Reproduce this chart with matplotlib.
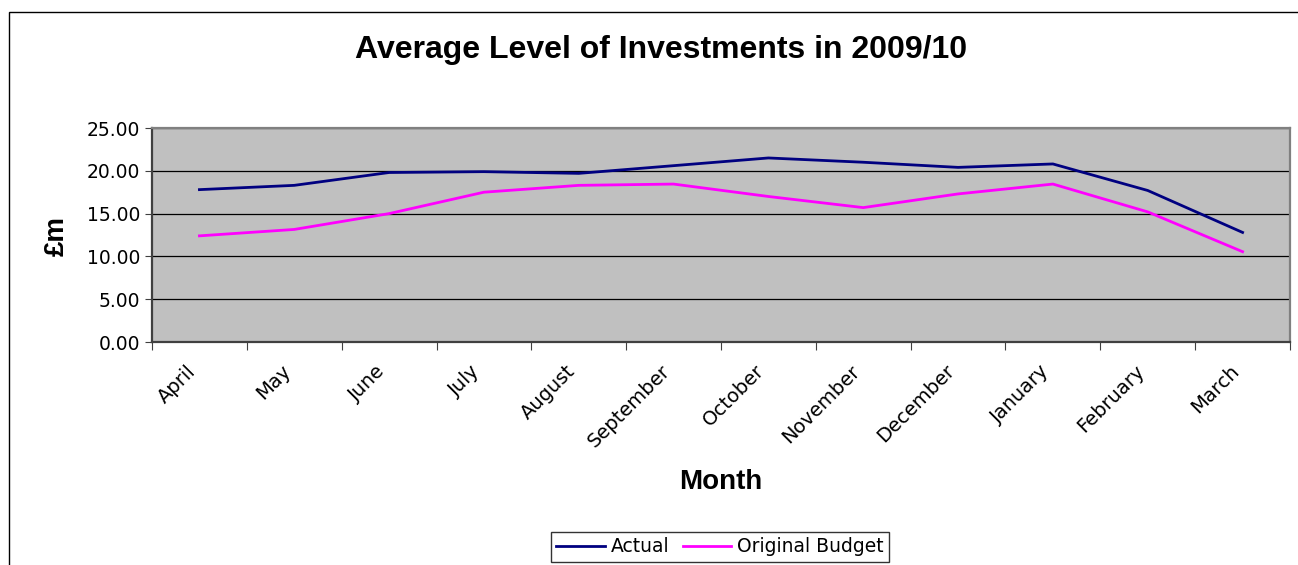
import matplotlib.pyplot as plt
from matplotlib.patches import Rectangle
from matplotlib.ticker import FixedLocator, FormatStrFormatter

plt.rcParams['font.family'] = ['Liberation Sans', 'DejaVu Sans']

months = ["April", "May", "June", "July", "August", "September", "October",
          "November", "December", "January", "February", "March"]
actual = [17.8, 18.3, 19.8, 19.9, 19.7, 20.6, 21.5, 21.0, 20.4, 20.8, 17.7, 12.8]
budget = [12.4, 13.15, 15.0, 17.5, 18.3, 18.45, 17.0, 15.7, 17.3, 18.45, 15.2, 10.55]

fig = plt.figure(figsize=(12.98, 5.65), dpi=100)

# outer chart frame (cut off at right and bottom like the source)
fig.patches.append(Rectangle((9 / 1298, -0.05), 1.1, 1 - 12 / 565 + 0.05,
                             transform=fig.transFigure, fill=False,
                             edgecolor='black', linewidth=1.0))

ax = fig.add_axes([152 / 1298, 1 - 342 / 565, (1290 - 152) / 1298, (342 - 128) / 565])
ax.set_facecolor('#C0C0C0')

x = list(range(len(months)))
ax.plot(x, actual, color='#000080', linewidth=2.0, label='Actual')
ax.plot(x, budget, color='#FF00FF', linewidth=2.0, label='Original Budget')

ax.set_xlim(-0.5, len(months) - 0.5)
ax.set_ylim(0, 25)
ax.set_yticks([0, 5, 10, 15, 20, 25])
ax.yaxis.set_major_formatter(FormatStrFormatter('%.2f'))
ax.grid(axis='y', color='black', linewidth=0.9)
ax.set_axisbelow(True)

# category boundaries get tick marks, labels sit at centres
ax.xaxis.set_major_locator(FixedLocator([i - 0.5 for i in range(len(months) + 1)]))
ax.xaxis.set_minor_locator(FixedLocator(x))
ax.set_xticklabels([])
ax.set_xticklabels(months, minor=True, rotation=45, ha='right', va='top',
                   fontsize=14, family='DejaVu Sans')
ax.tick_params(axis='x', which='major', direction='out', length=6, color='#404040')
ax.tick_params(axis='x', which='minor', length=0, pad=14)
ax.tick_params(axis='y', direction='out', length=5, labelsize=13.5, color='#404040')
for lab in ax.get_yticklabels():
    lab.set_family('DejaVu Sans')

for s in ax.spines.values():
    s.set_color('#808080')
    s.set_linewidth(1.6)
ax.spines['bottom'].set_color('#404040')
ax.spines['left'].set_color('#404040')

fig.text(661 / 1298, 1 - 50 / 565, "Average Level of Investments in 2009/10",
         ha='center', va='center', fontsize=23, fontweight='bold')
fig.text(57 / 1298, 1 - 236 / 565, "£m", rotation=90, ha='center', va='center',
         fontsize=20, fontweight='bold')
fig.text(721 / 1298, 1 - 482 / 565, "Month", ha='center', va='center',
         fontsize=20, fontweight='bold')

leg = fig.legend(loc='center', bbox_to_anchor=(720 / 1298, 1 - 547 / 565), ncol=2,
                 prop={'family': 'DejaVu Sans', 'size': 13.5}, frameon=True,
                 fancybox=False, edgecolor='black', handlelength=2.6,
                 handletextpad=0.3, columnspacing=0.7, borderpad=0.3)
leg.get_frame().set_linewidth(1.0)

fig.savefig('out.png', dpi=100, facecolor='white')
